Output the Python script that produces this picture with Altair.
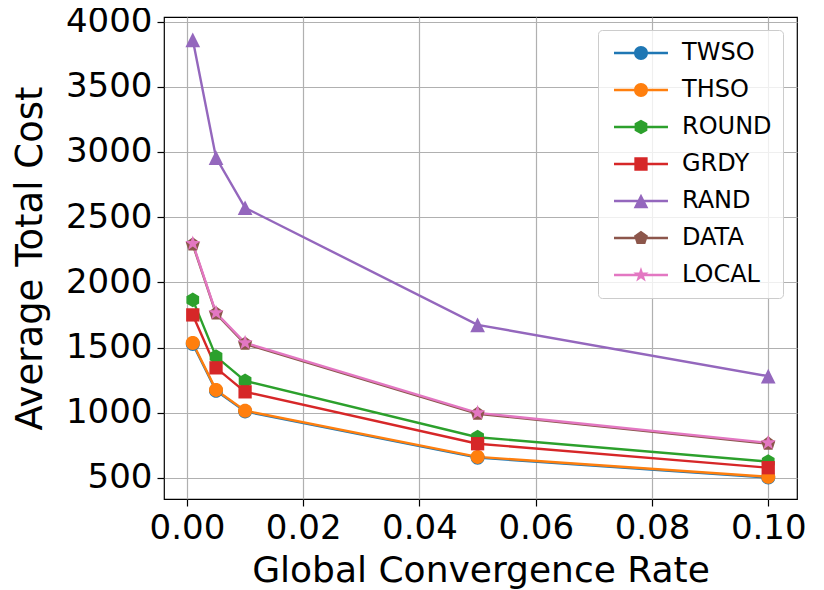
import math
import altair as alt
import pandas as pd

# ---- data ----
rates = [0.001, 0.005, 0.01, 0.05, 0.1]
series_names = ["TWSO", "THSO", "ROUND", "GRDY", "RAND", "DATA", "LOCAL"]
twso = [1527, 1168, 1010, 655, 503]
thso = [1535, 1175, 1015, 661, 508]
round_ = [1865, 1430, 1244, 812, 625]
grdy = [1750, 1344, 1160, 762, 578]
rand = [3860, 2956, 2572, 1674, 1280]
data_ = [2290, 1760, 1528, 992, 762]
local = [2298, 1766, 1536, 999, 769]
colors = ["#1f77b4", "#ff7f0e", "#2ca02c", "#d62728", "#9467bd", "#8c564b", "#e377c2"]
x_ticks = [0.0, 0.02, 0.04, 0.06, 0.08, 0.10]
y_ticks = [500, 1000, 1500, 2000, 2500, 3000, 3500, 4000]

values = [twso, thso, round_, grdy, rand, data_, local]
rows = []
for name, vals in zip(series_names, values):
    for r, v in zip(rates, vals):
        rows.append({"series": name, "rate": r, "cost": v})
df = pd.DataFrame(rows)


# ---- marker shapes (custom SVG paths) ----
def pts_poly(n, r=1.0, start=-90.0, cx=0.0):
    return [(cx + r * math.cos(math.radians(start + 360.0 * k / n)),
             r * math.sin(math.radians(start + 360.0 * k / n))) for k in range(n)]


def pts_star(r1=1.15, r2=0.45, cx=0.0):
    out = []
    for k in range(10):
        a = math.radians(-90 + 36 * k)
        r = r1 if k % 2 == 0 else r2
        out.append((cx + r * math.cos(a), r * math.sin(a)))
    return out


def path(pts):
    return "M" + "L".join(f"{x:.3f},{y:.3f}" for x, y in pts) + "Z"


def marker_pts(kind, cx=0.0):
    if kind == "circle":
        return pts_poly(32, 1.0, cx=cx)
    if kind == "square":
        s = 0.95
        return [(cx - s, -s), (cx + s, -s), (cx + s, s), (cx - s, s)]
    if kind == "triangle":
        return [(cx, -1.05), (cx + 1.05, 1.05), (cx - 1.05, 1.05)]
    if kind == "hexagon":
        return pts_poly(6, 1.05, cx=cx)
    if kind == "pentagon":
        return pts_poly(5, 1.05, cx=cx)
    return pts_star(cx=cx)


kinds = ["circle", "circle", "hexagon", "square", "triangle", "pentagon", "star"]
plot_shapes = [path(marker_pts(k)) for k in kinds]

# legend symbol: line segment with the marker in its middle
L0, L1, HW = -1.0, 6.71, 0.17
cx = (L0 + L1) / 2
line_rect = f"M{L0},{-HW}L{L1},{-HW}L{L1},{HW}L{L0},{HW}Z"
legend_shapes = [line_rect + path(marker_pts(k, cx)) for k in kinds]

xs = alt.Scale(domain=[-0.00395, 0.10495], nice=False, zero=False)
ys = alt.Scale(domain=[338, 4035], nice=False, zero=False)
color_scale = alt.Scale(domain=series_names, range=colors)

X = alt.X("rate:Q", scale=xs, title="Global Convergence Rate",
          axis=alt.Axis(values=x_ticks, format=".2f", titlePadding=8, titleFontSize=36))
Y = alt.Y("cost:Q", scale=ys, title="Average Total Cost",
          axis=alt.Axis(values=y_ticks, format="d", titlePadding=16, titleFontSize=37))

lines = alt.Chart(df).mark_line(strokeWidth=2.4).encode(
    x=X, y=Y,
    color=alt.Color("series:N", scale=color_scale, legend=None),
    detail="series:N",
)

points = alt.Chart(df).mark_point(filled=True, size=196, opacity=1).encode(
    x="rate:Q", y="cost:Q",
    color=alt.Color("series:N", scale=color_scale, legend=None),
    shape=alt.Shape("series:N", scale=alt.Scale(domain=series_names, range=plot_shapes), legend=None),
)

legend_carrier = alt.Chart(df).transform_filter("false").mark_point(
    filled=True, size=196, opacity=1
).encode(
    x="rate:Q", y="cost:Q",
    color=alt.Color("series:N", scale=color_scale, legend=None),
    shape=alt.Shape(
        "series:N",
        scale=alt.Scale(domain=series_names, range=legend_shapes),
        title=None,
        legend=alt.Legend(
            title=None, orient="none", legendX=434, legendY=13,
            symbolFillColor={"expr": "scale('color', datum.value)"},
            symbolOpacity=1,
        ),
    ),
)

chart = alt.layer(lines, points, legend_carrier).resolve_scale(
    shape="independent"
).properties(
    width=633, height=482,
    autosize=alt.AutoSizeParams(type="none"),
    padding={"left": 156, "top": 9, "right": 19, "bottom": 91},
).configure_view(
    stroke="black", strokeWidth=1.2
).configure_axis(
    domain=False,
    grid=True, gridColor="#b0b0b0", gridWidth=1.2,
    ticks=True, tickColor="black", tickSize=7, tickWidth=1.2,
    labelFont="DejaVu Sans", labelFontSize=34, labelColor="black", labelPadding=5,
    titleFont="DejaVu Sans", titleFontWeight="normal", titleColor="black",
    labelFlush=False,
).configure_legend(
    padding=11, fillColor="rgba(255,255,255,0.8)", strokeColor="#cccccc",
    cornerRadius=4, strokeWidth=1,
    labelFont="DejaVu Sans", labelFontSize=24, labelColor="black",
    labelOffset=49, rowPadding=13,
    symbolSize=196, symbolStrokeWidth=0, symbolOffset=0,
)

chart.save("out.html", embed_options={"renderer": "svg", "actions": False})
